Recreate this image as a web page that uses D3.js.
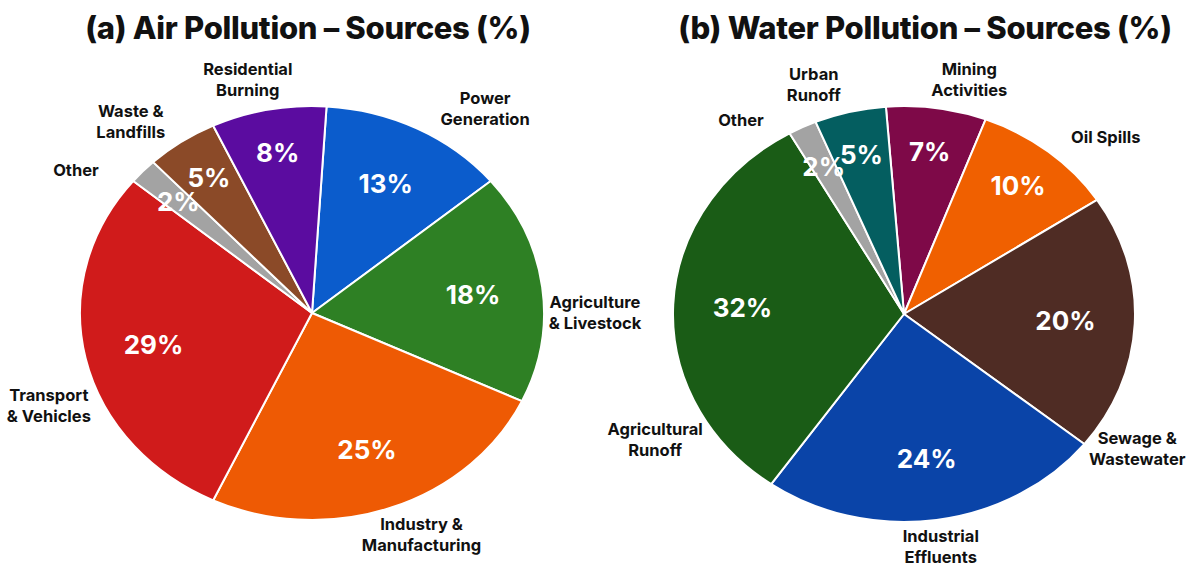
<!DOCTYPE html>
<html>
<head>
<meta charset="utf-8">
<script src="https://cdn.jsdelivr.net/npm/d3@7"></script>
<style>
  html, body { margin: 0; padding: 0; background: #ffffff; }
  svg { display: block; }
  text { font-family: Inter, "Noto Sans", "DejaVu Sans", sans-serif; }
</style>
</head>
<body>
<svg id="chart" width="1192" height="575"></svg>
<script>
// ---- data ----
const airCategories = [
  "Power\nGeneration", "Agriculture\n& Livestock", "Industry &\nManufacturing",
  "Transport\n& Vehicles", "Other", "Waste &\nLandfills", "Residential\nBurning"
];
const airValues = [13, 18, 25, 29, 2, 5, 8];

const waterCategories = [
  "Mining\nActivities", "Oil Spills", "Sewage &\nWastewater",
  "Industrial\nEffluents", "Agricultural\nRunoff", "Other", "Urban\nRunoff"
];
const waterValues = [7, 10, 20, 24, 32, 2, 5];

// ---- styling ----
const airColors = ["#0b5ccc", "#2e8024", "#ee5a04", "#d01b1b", "#a3a3a3", "#8b4a28", "#5b0ca0"];
const waterColors = ["#7e0948", "#f06000", "#4f2c24", "#0a44a8", "#1a5c16", "#a3a3a3", "#045e60"];

// outside-label placement: angular nudge (degrees) from slice middle and radius factor
const airLabelNudge = [10, 7, -4, -9, -9, -6, -3];
const airLabelRadius = [1.24, 1.22, 1.17, 1.22, 1.23, 1.21, 1.16];
const waterLabelNudge = [6, 7, 30, 0, -32, -11, -6];
const waterLabelRadius = [1.16, 1.22, 1.2, 1.13, 1.235, 1.17, 1.17];

const svg = d3.select("#chart");

function drawPie(opts) {
  const { title, titleX, cx, cy, rx, ry, start, categories, values, colors, nudge, labelR } = opts;
  const data = categories.map((c, i) => ({ name: c, value: values[i], color: colors[i], nudge: nudge[i], lr: labelR[i] }));

  svg.append("text")
    .attr("x", titleX).attr("y", 39)
    .attr("text-anchor", "middle")
    .attr("font-size", 31).attr("font-weight", 800)
    .attr("letter-spacing", -0.3)
    .attr("fill", "#111")
    .text(title);

  const pie = d3.pie().sort(null).value(d => d.value)
    .startAngle(start).endAngle(start + 2 * Math.PI);
  const arcs = pie(data);
  const arc = d3.arc().innerRadius(0).outerRadius(ry);

  const g = svg.append("g").attr("transform", `translate(${cx},${cy}) scale(${rx / ry},1)`);
  g.selectAll("path").data(arcs).join("path")
    .attr("d", arc)
    .attr("fill", d => d.data.color)
    .attr("stroke", "#ffffff")
    .attr("stroke-width", 2)
    .attr("vector-effect", "non-scaling-stroke")
    .attr("stroke-linejoin", "round");

  const pos = (a, r) => [cx + r * rx * Math.sin(a), cy - r * ry * Math.cos(a)];

  // percentage labels inside slices
  svg.append("g").selectAll("text").data(arcs).join("text")
    .each(function (d) {
      const mid = (d.startAngle + d.endAngle) / 2;
      const r = d.data.value >= 13 ? 0.70 : 0.79;
      const [x, y] = pos(mid, r);
      d3.select(this).attr("x", x).attr("y", y);
    })
    .attr("text-anchor", "middle")
    .attr("dominant-baseline", "central")
    .attr("font-size", 26).attr("font-weight", 700)
    .attr("fill", "#ffffff")
    .text(d => d.data.value + "%");

  // category labels outside the pie
  const lineH = 21;
  svg.append("g").selectAll("text").data(arcs).join("text")
    .each(function (d) {
      const mid = (d.startAngle + d.endAngle) / 2 + d.data.nudge * Math.PI / 180;
      const [x, y] = pos(mid, d.data.lr);
      const lines = d.data.name.split("\n");
      const t = d3.select(this);
      lines.forEach((ln, i) => {
        t.append("tspan")
          .attr("x", x)
          .attr("y", y + (i - (lines.length - 1) / 2) * lineH)
          .attr("dominant-baseline", "central")
          .text(ln);
      });
    })
    .attr("text-anchor", "middle")
    .attr("font-size", 16.5).attr("font-weight", 700)
    .attr("fill", "#111");
}

drawPie({
  title: "(a) Air Pollution – Sources (%)", titleX: 308,
  cx: 312, cy: 313, rx: 232, ry: 207, start: 3.6 * Math.PI / 180,
  categories: airCategories, values: airValues, colors: airColors,
  nudge: airLabelNudge, labelR: airLabelRadius
});

drawPie({
  title: "(b) Water Pollution – Sources (%)", titleX: 925,
  cx: 904, cy: 314, rx: 231, ry: 208, start: -4.5 * Math.PI / 180,
  categories: waterCategories, values: waterValues, colors: waterColors,
  nudge: waterLabelNudge, labelR: waterLabelRadius
});
</script>
</body>
</html>
